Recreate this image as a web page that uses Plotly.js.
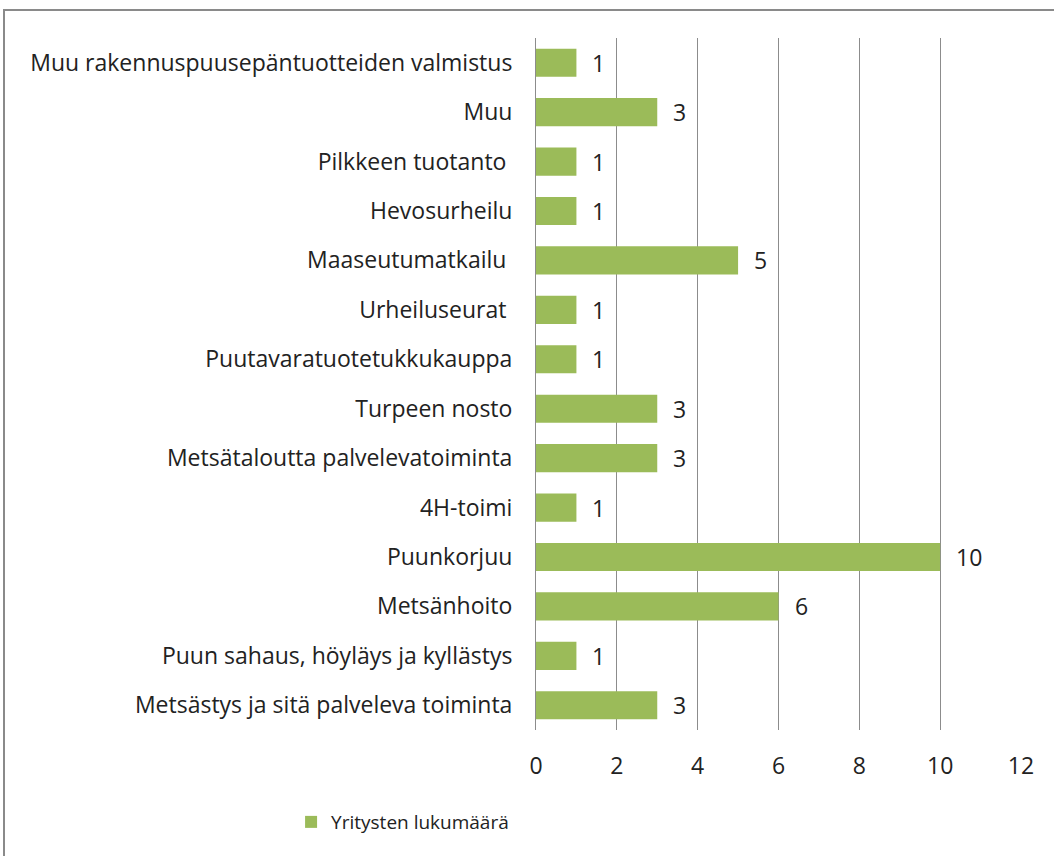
<!DOCTYPE html>
<html>
<head>
<meta charset="utf-8">
<script src="https://cdn.plot.ly/plotly-3.0.1.min.js"></script>
<style>
  html, body { margin: 0; padding: 0; background: #fff; }
  #wrap { position: relative; width: 1054px; height: 856px; overflow: hidden; }
  #chart { position: absolute; left: 0; top: 0; width: 1054px; height: 856px; }
  #frame { position: absolute; left: 3px; top: 9px; width: 1060px; height: 860px;
           border-left: 2px solid #8a8a8a; border-top: 2px solid #8a8a8a; pointer-events: none; }
</style>
</head>
<body>
<div id="wrap">
  <div id="chart"></div>
  <div id="frame"></div>
</div>
<script>
const categories = [
  "Muu rakennuspuusepäntuotteiden valmistus",
  "Muu",
  "Pilkkeen tuotanto ",
  "Hevosurheilu",
  "Maaseutumatkailu ",
  "Urheiluseurat ",
  "Puutavaratuotetukkukauppa",
  "Turpeen nosto",
  "Metsätaloutta palvelevatoiminta",
  "4H-toimi",
  "Puunkorjuu",
  "Metsänhoito",
  "Puun sahaus, höyläys ja kyllästys",
  "Metsästys ja sitä palveleva toiminta"
];
const values = [1, 3, 1, 1, 5, 1, 1, 3, 3, 1, 10, 6, 1, 3];
const seriesName = "Yritysten lukumäärä";
const xTicks = [0, 2, 4, 6, 8, 10, 12];

const FONT = "Open Sans, Noto Sans, sans-serif";
const FS = 23;

const trace = {
  type: "bar",
  orientation: "h",
  y: categories,
  x: values,
  name: seriesName,
  marker: { color: "#9bbb59", line: { width: 0 } },
  hoverinfo: "none"
};

const annotations = values.map((v, i) => ({
  x: v, y: categories[i], xref: "x", yref: "y",
  text: String(v), showarrow: false,
  xanchor: "left", xshift: 14, yshift: 0,
  font: { family: FONT, size: FS, color: "#222" }
}));

const layout = {
  width: 1054, height: 856,
  margin: { l: 536, r: 33, t: 38, b: 126 },
  paper_bgcolor: "#fff", plot_bgcolor: "#fff",
  font: { family: FONT, size: FS, color: "#222" },
  bargap: 0.43,
  showlegend: true,
  legend: {
    x: -0.505, xanchor: "left", y: -0.133, yanchor: "middle",
    orientation: "h",
    font: { family: FONT, size: 19, color: "#222" },
    itemwidth: 30
  },
  xaxis: {
    range: [0, 12], tickvals: xTicks, ticktext: xTicks.map(String),
    showgrid: true, gridcolor: "#8c8c8c", gridwidth: 1,
    zeroline: false, showline: false, ticks: "",
    ticklabelstandoff: 20,
    tickfont: { family: FONT, size: FS, color: "#222" },
    fixedrange: true
  },
  yaxis: {
    type: "category", autorange: "reversed",
    showgrid: false, zeroline: false,
    showline: true, linecolor: "#8c8c8c", linewidth: 1,
    ticks: "", ticklabelstandoff: 18,
    tickfont: { family: FONT, size: FS, color: "#222" },
    fixedrange: true
  },
  annotations: annotations
};

Plotly.newPlot("chart", [trace], layout, { displayModeBar: false, staticPlot: true });
</script>
</body>
</html>
